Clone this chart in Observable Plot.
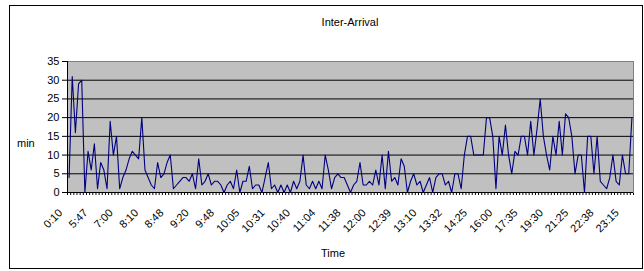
<!DOCTYPE html>
<html><head><meta charset="utf-8">
<script src="https://cdn.jsdelivr.net/npm/d3@7"></script>
<script src="https://cdn.jsdelivr.net/npm/@observablehq/plot@0.6"></script>
<style>
body{margin:0;background:#fff;font-family:"Liberation Sans",Arial,sans-serif;}
#wrap{position:relative;width:644px;height:271px;overflow:hidden;}
#chart{position:absolute;left:0;top:0;}
#border{position:absolute;left:9px;top:5px;width:634px;height:264px;border:1px solid #000;box-sizing:border-box;}
.lbl{position:absolute;font-size:11px;color:#000;white-space:nowrap;}
#title{left:0;width:700px;text-align:center;top:16px;}
#ylab{left:17px;top:137px;}
#xlab{left:0;width:666px;text-align:center;top:247px;}
</style></head>
<body>
<div id="wrap">
  <div id="chart"></div>
  <div id="border"></div>
  <div class="lbl" id="title">Inter-Arrival</div>
  <div class="lbl" id="ylab">min</div>
  <div class="lbl" id="xlab">Time</div>
</div>
<script>
const values = [
  4,31,16,29,30,0,11,6,13,1,8,6,1,19,10,15,1,
  4,6,9,11,10,9,20,6,4,2,1,8,4,5,8,10,1,2,3,4,4,3,5,1,9,2,3,5,
  2,3,3,2,0,2,3,1,6,0,3,3,7,1,2,2,0,4,8,1,2,0,2,0,2,0,3,1,3,10,2,1,3,1,3,1,10,6,1,4,5,4,4,2,
  0,2,3,8,2,2,3,2,6,2,10,1,11,3,4,2,9,7,0,3,5,2,3,0,2,4,0,4,5,5,2,3,0,5,5,1,10,15,15,10,10,10,10,20,
  20,15,1,15,10,18,10,5,11,10,15,15,10,19,10,17,25,15,10,6,15,10,19,10,21,20,15,5,10,10,0,15,15,5,15,3,2,1,4,10,3,2,10,5,5,20
];
const tickLabels = ["0:10","5:47","7:00","8:10","8:48","9:20","9:48","10:05","10:31","10:40","11:04",
  "11:38","12:00","12:39","13:10","13:32","14:25","16:00","17:35","19:30","21:25","22:38","23:15"];
const labelStep = 8;
const yTicks = [0,5,10,15,20,25,30,35];

const n = values.length;
const data = values.map((v,i)=>({i, v}));
const xDomain = [-0.5, n - 0.5];
const bounds = d3.range(n + 1).map(i => i - 0.5);
const labelIdx = tickLabels.map((_, k) => k * labelStep);

const chart = Plot.plot({
  width: 644, height: 271,
  marginTop: 61, marginRight: 11, marginBottom: 79, marginLeft: 67,
  style: {fontFamily: "'Liberation Sans', Arial, sans-serif", fontSize: "11px", background: "transparent", color: "#000"},
  x: {domain: xDomain, ticks: bounds, tickSize: 3, tickFormat: () => "", label: null},
  y: {domain: [0, 35], ticks: yTicks, tickSize: 5, tickPadding: 3, label: null},
  marks: [
    Plot.frame({fill: "#c0c0c0", stroke: "none"}),
    Plot.ruleY(yTicks, {stroke: "#000", strokeWidth: 1}),
    Plot.frame({stroke: "#808080"}),
    Plot.ruleX([xDomain[0]], {stroke: "#000"}),
    Plot.ruleY([0], {stroke: "#000"}),
    Plot.line(data, {x: "i", y: "v", stroke: "#000080", strokeWidth: 1.1}),
    Plot.text(labelIdx, {x: d => d, frameAnchor: "bottom", text: (d, k) => tickLabels[k],
      rotate: -45, textAnchor: "end", dx: -6, dy: 21, fontSize: 11})
  ]
});
document.getElementById("chart").appendChild(chart);
</script>
</body></html>
